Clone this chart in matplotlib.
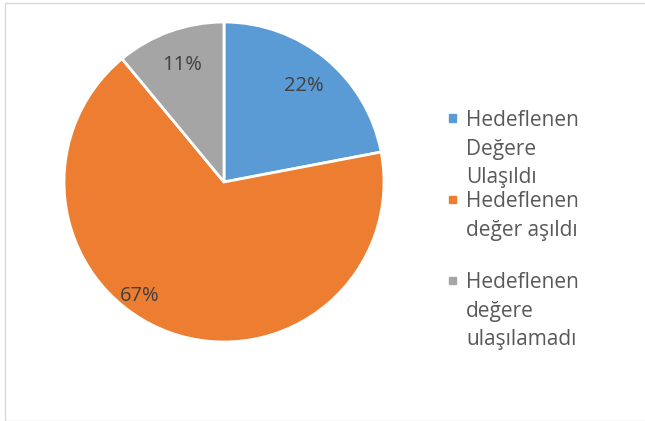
import matplotlib.pyplot as plt
from matplotlib.patches import Rectangle

labels = ['Hedeflenen\nDeğere\nUlaşıldı', 'Hedeflenen\ndeğer aşıldı', 'Hedeflenen\ndeğere\nulaşılamadı']
values = [22, 67, 11]
colors = ['#5B9BD5', '#ED7D31', '#A5A5A5']

plt.rcParams['font.family'] = ['Open Sans', 'DejaVu Sans']

W, H = 645, 421
fig = plt.figure(figsize=(W / 100, H / 100), dpi=100)

# pie area: centre (224, 182), radius 160 px
ax = fig.add_axes([64 / W, (H - 342) / H, 320 / W, 320 / H])
wedges, texts, autotexts = ax.pie(values, colors=colors, startangle=90, counterclock=False,
                                  autopct='%1.0f%%', pctdistance=0.78,
                                  wedgeprops=dict(edgecolor='white', linewidth=2),
                                  textprops=dict(color='#404040', fontsize=14.5))
ax.set_xlim(-1, 1)
ax.set_ylim(-1, 1)
ax.set_aspect('equal')
# Excel "best fit" puts the 67% label lower-left
autotexts[1].set_position((-0.53, -0.71))

# legend drawn by hand, each entry gets three line slots
line_h = 27
top = 118
for i, (lab, col) in enumerate(zip(labels, colors)):
    y = top + i * 3 * line_h
    fig.patches.append(Rectangle((449 / W, (H - y - 3.5) / H), 7 / W, 7 / H,
                                 transform=fig.transFigure, color=col))
    fig.text(466 / W, (H - y + 8) / H, lab, fontsize=15, color='#595959',
             va='top', ha='left', linespacing=1.47)

# chart border
fig.patches.append(Rectangle((4.5 / W, 0.5 / H), 645 / W, 417.5 / H, transform=fig.transFigure,
                             fill=False, edgecolor='#d9d9d9', linewidth=1))

fig.savefig('out.png', dpi=100)
